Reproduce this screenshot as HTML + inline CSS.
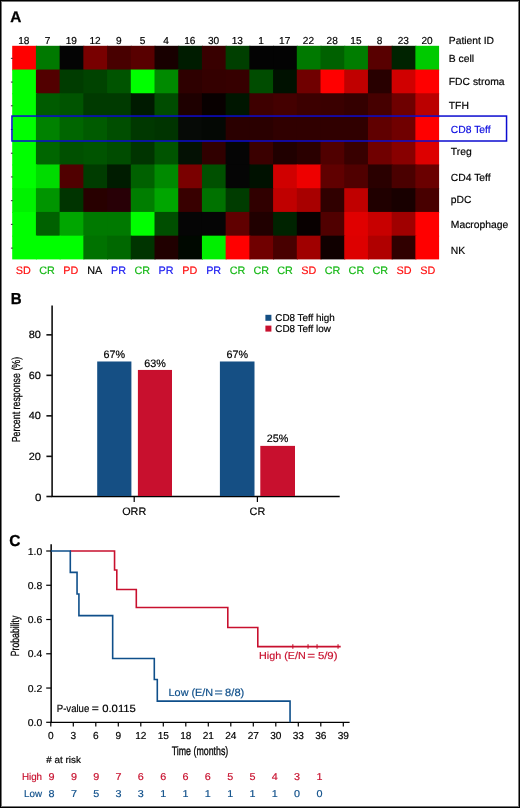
<!DOCTYPE html>
<html><head><meta charset="utf-8"><title>Figure</title>
<style>
html,body{margin:0;padding:0;background:#fff;}
body{width:520px;height:808px;overflow:hidden;position:relative;font-family:"Liberation Sans", sans-serif;}
svg{position:absolute;left:0;top:0;display:block;will-change:transform;}
svg text{font-family:"Liberation Sans", sans-serif;text-rendering:geometricPrecision;}
</style></head><body>
<svg width="520" height="808" viewBox="0 0 520 808">
<rect x="0" y="0" width="520" height="808" fill="#fff"/>

<text transform="translate(10.2,21.7) scale(0.1000,0.1000)" x="0" y="0" font-size="154.0" font-weight="bold" fill="#000" stroke="#000" stroke-width="3">A</text>
<text transform="translate(10.7,303.5) scale(0.0950,0.1000)" x="0" y="0" font-size="159.0" font-weight="bold" fill="#000" stroke="#000" stroke-width="3">B</text>
<text transform="translate(9.3,545.6) scale(0.0970,0.1000)" x="0" y="0" font-size="160.0" font-weight="bold" fill="#000" stroke="#000" stroke-width="3">C</text>
<g>
<rect x="12.20" y="45.80" width="24.72" height="24.73" fill="#ff0000"/>
<rect x="35.92" y="45.80" width="24.72" height="24.73" fill="#007900"/>
<rect x="59.63" y="45.80" width="24.72" height="24.73" fill="#040404"/>
<rect x="83.35" y="45.80" width="24.72" height="24.73" fill="#780000"/>
<rect x="107.07" y="45.80" width="24.72" height="24.73" fill="#480000"/>
<rect x="130.78" y="45.80" width="24.72" height="24.73" fill="#580000"/>
<rect x="154.50" y="45.80" width="24.72" height="24.73" fill="#180000"/>
<rect x="178.22" y="45.80" width="24.72" height="24.73" fill="#001c00"/>
<rect x="201.93" y="45.80" width="24.72" height="24.73" fill="#380000"/>
<rect x="225.65" y="45.80" width="24.72" height="24.73" fill="#003f00"/>
<rect x="249.37" y="45.80" width="24.72" height="24.73" fill="#030303"/>
<rect x="273.08" y="45.80" width="24.72" height="24.73" fill="#030303"/>
<rect x="296.80" y="45.80" width="24.72" height="24.73" fill="#007900"/>
<rect x="320.52" y="45.80" width="24.72" height="24.73" fill="#006100"/>
<rect x="344.23" y="45.80" width="24.72" height="24.73" fill="#007d00"/>
<rect x="367.95" y="45.80" width="24.72" height="24.73" fill="#580000"/>
<rect x="391.67" y="45.80" width="24.72" height="24.73" fill="#002300"/>
<rect x="415.38" y="45.80" width="23.72" height="24.73" fill="#00ca00"/>
<rect x="12.20" y="69.53" width="24.72" height="24.73" fill="#00ff00"/>
<rect x="35.92" y="69.53" width="24.72" height="24.73" fill="#520000"/>
<rect x="59.63" y="69.53" width="24.72" height="24.73" fill="#003c00"/>
<rect x="83.35" y="69.53" width="24.72" height="24.73" fill="#004300"/>
<rect x="107.07" y="69.53" width="24.72" height="24.73" fill="#005400"/>
<rect x="130.78" y="69.53" width="24.72" height="24.73" fill="#00ff00"/>
<rect x="154.50" y="69.53" width="24.72" height="24.73" fill="#008a00"/>
<rect x="178.22" y="69.53" width="24.72" height="24.73" fill="#2e0000"/>
<rect x="201.93" y="69.53" width="24.72" height="24.73" fill="#340000"/>
<rect x="225.65" y="69.53" width="24.72" height="24.73" fill="#360000"/>
<rect x="249.37" y="69.53" width="24.72" height="24.73" fill="#004c00"/>
<rect x="273.08" y="69.53" width="24.72" height="24.73" fill="#001100"/>
<rect x="296.80" y="69.53" width="24.72" height="24.73" fill="#700000"/>
<rect x="320.52" y="69.53" width="24.72" height="24.73" fill="#ff0000"/>
<rect x="344.23" y="69.53" width="24.72" height="24.73" fill="#c00000"/>
<rect x="367.95" y="69.53" width="24.72" height="24.73" fill="#280000"/>
<rect x="391.67" y="69.53" width="24.72" height="24.73" fill="#d00000"/>
<rect x="415.38" y="69.53" width="23.72" height="24.73" fill="#ff0000"/>
<rect x="12.20" y="93.27" width="24.72" height="24.73" fill="#00ff00"/>
<rect x="35.92" y="93.27" width="24.72" height="24.73" fill="#005b00"/>
<rect x="59.63" y="93.27" width="24.72" height="24.73" fill="#005400"/>
<rect x="83.35" y="93.27" width="24.72" height="24.73" fill="#003a00"/>
<rect x="107.07" y="93.27" width="24.72" height="24.73" fill="#003a00"/>
<rect x="130.78" y="93.27" width="24.72" height="24.73" fill="#001a00"/>
<rect x="154.50" y="93.27" width="24.72" height="24.73" fill="#004c00"/>
<rect x="178.22" y="93.27" width="24.72" height="24.73" fill="#1e0000"/>
<rect x="201.93" y="93.27" width="24.72" height="24.73" fill="#080000"/>
<rect x="225.65" y="93.27" width="24.72" height="24.73" fill="#001600"/>
<rect x="249.37" y="93.27" width="24.72" height="24.73" fill="#3e0000"/>
<rect x="273.08" y="93.27" width="24.72" height="24.73" fill="#440000"/>
<rect x="296.80" y="93.27" width="24.72" height="24.73" fill="#3c0000"/>
<rect x="320.52" y="93.27" width="24.72" height="24.73" fill="#3a0000"/>
<rect x="344.23" y="93.27" width="24.72" height="24.73" fill="#340000"/>
<rect x="367.95" y="93.27" width="24.72" height="24.73" fill="#460000"/>
<rect x="391.67" y="93.27" width="24.72" height="24.73" fill="#6e0000"/>
<rect x="415.38" y="93.27" width="23.72" height="24.73" fill="#bb0000"/>
<rect x="12.20" y="117.00" width="24.72" height="24.73" fill="#00ff00"/>
<rect x="35.92" y="117.00" width="24.72" height="24.73" fill="#008200"/>
<rect x="59.63" y="117.00" width="24.72" height="24.73" fill="#006600"/>
<rect x="83.35" y="117.00" width="24.72" height="24.73" fill="#005b00"/>
<rect x="107.07" y="117.00" width="24.72" height="24.73" fill="#004e00"/>
<rect x="130.78" y="117.00" width="24.72" height="24.73" fill="#003800"/>
<rect x="154.50" y="117.00" width="24.72" height="24.73" fill="#003400"/>
<rect x="178.22" y="117.00" width="24.72" height="24.73" fill="#060a06"/>
<rect x="201.93" y="117.00" width="24.72" height="24.73" fill="#040804"/>
<rect x="225.65" y="117.00" width="24.72" height="24.73" fill="#2a0000"/>
<rect x="249.37" y="117.00" width="24.72" height="24.73" fill="#2a0000"/>
<rect x="273.08" y="117.00" width="24.72" height="24.73" fill="#300000"/>
<rect x="296.80" y="117.00" width="24.72" height="24.73" fill="#300000"/>
<rect x="320.52" y="117.00" width="24.72" height="24.73" fill="#300000"/>
<rect x="344.23" y="117.00" width="24.72" height="24.73" fill="#300000"/>
<rect x="367.95" y="117.00" width="24.72" height="24.73" fill="#600000"/>
<rect x="391.67" y="117.00" width="24.72" height="24.73" fill="#700000"/>
<rect x="415.38" y="117.00" width="23.72" height="24.73" fill="#ff0000"/>
<rect x="12.20" y="140.73" width="24.72" height="24.73" fill="#00ff00"/>
<rect x="35.92" y="140.73" width="24.72" height="24.73" fill="#006600"/>
<rect x="59.63" y="140.73" width="24.72" height="24.73" fill="#005000"/>
<rect x="83.35" y="140.73" width="24.72" height="24.73" fill="#005400"/>
<rect x="107.07" y="140.73" width="24.72" height="24.73" fill="#004c00"/>
<rect x="130.78" y="140.73" width="24.72" height="24.73" fill="#003400"/>
<rect x="154.50" y="140.73" width="24.72" height="24.73" fill="#005400"/>
<rect x="178.22" y="140.73" width="24.72" height="24.73" fill="#041104"/>
<rect x="201.93" y="140.73" width="24.72" height="24.73" fill="#300000"/>
<rect x="225.65" y="140.73" width="24.72" height="24.73" fill="#050505"/>
<rect x="249.37" y="140.73" width="24.72" height="24.73" fill="#3a0000"/>
<rect x="273.08" y="140.73" width="24.72" height="24.73" fill="#200000"/>
<rect x="296.80" y="140.73" width="24.72" height="24.73" fill="#2a0000"/>
<rect x="320.52" y="140.73" width="24.72" height="24.73" fill="#500000"/>
<rect x="344.23" y="140.73" width="24.72" height="24.73" fill="#380000"/>
<rect x="367.95" y="140.73" width="24.72" height="24.73" fill="#700000"/>
<rect x="391.67" y="140.73" width="24.72" height="24.73" fill="#880000"/>
<rect x="415.38" y="140.73" width="23.72" height="24.73" fill="#dd0000"/>
<rect x="12.20" y="164.47" width="24.72" height="24.73" fill="#00ff00"/>
<rect x="35.92" y="164.47" width="24.72" height="24.73" fill="#00dc00"/>
<rect x="59.63" y="164.47" width="24.72" height="24.73" fill="#500000"/>
<rect x="83.35" y="164.47" width="24.72" height="24.73" fill="#003c00"/>
<rect x="107.07" y="164.47" width="24.72" height="24.73" fill="#001c00"/>
<rect x="130.78" y="164.47" width="24.72" height="24.73" fill="#006100"/>
<rect x="154.50" y="164.47" width="24.72" height="24.73" fill="#008a00"/>
<rect x="178.22" y="164.47" width="24.72" height="24.73" fill="#7a0000"/>
<rect x="201.93" y="164.47" width="24.72" height="24.73" fill="#005000"/>
<rect x="225.65" y="164.47" width="24.72" height="24.73" fill="#050505"/>
<rect x="249.37" y="164.47" width="24.72" height="24.73" fill="#001100"/>
<rect x="273.08" y="164.47" width="24.72" height="24.73" fill="#d00000"/>
<rect x="296.80" y="164.47" width="24.72" height="24.73" fill="#ee0000"/>
<rect x="320.52" y="164.47" width="24.72" height="24.73" fill="#600000"/>
<rect x="344.23" y="164.47" width="24.72" height="24.73" fill="#500000"/>
<rect x="367.95" y="164.47" width="24.72" height="24.73" fill="#2a0000"/>
<rect x="391.67" y="164.47" width="24.72" height="24.73" fill="#4a0000"/>
<rect x="415.38" y="164.47" width="23.72" height="24.73" fill="#6a0000"/>
<rect x="12.20" y="188.20" width="24.72" height="24.73" fill="#00f200"/>
<rect x="35.92" y="188.20" width="24.72" height="24.73" fill="#009500"/>
<rect x="59.63" y="188.20" width="24.72" height="24.73" fill="#003400"/>
<rect x="83.35" y="188.20" width="24.72" height="24.73" fill="#280000"/>
<rect x="107.07" y="188.20" width="24.72" height="24.73" fill="#280006"/>
<rect x="130.78" y="188.20" width="24.72" height="24.73" fill="#007e00"/>
<rect x="154.50" y="188.20" width="24.72" height="24.73" fill="#00a600"/>
<rect x="178.22" y="188.20" width="24.72" height="24.73" fill="#380000"/>
<rect x="201.93" y="188.20" width="24.72" height="24.73" fill="#007200"/>
<rect x="225.65" y="188.20" width="24.72" height="24.73" fill="#003c00"/>
<rect x="249.37" y="188.20" width="24.72" height="24.73" fill="#300000"/>
<rect x="273.08" y="188.20" width="24.72" height="24.73" fill="#c00000"/>
<rect x="296.80" y="188.20" width="24.72" height="24.73" fill="#a80000"/>
<rect x="320.52" y="188.20" width="24.72" height="24.73" fill="#300000"/>
<rect x="344.23" y="188.20" width="24.72" height="24.73" fill="#c00000"/>
<rect x="367.95" y="188.20" width="24.72" height="24.73" fill="#200000"/>
<rect x="391.67" y="188.20" width="24.72" height="24.73" fill="#180000"/>
<rect x="415.38" y="188.20" width="23.72" height="24.73" fill="#480000"/>
<rect x="12.20" y="211.93" width="24.72" height="24.73" fill="#00ff00"/>
<rect x="35.92" y="211.93" width="24.72" height="24.73" fill="#006100"/>
<rect x="59.63" y="211.93" width="24.72" height="24.73" fill="#00a600"/>
<rect x="83.35" y="211.93" width="24.72" height="24.73" fill="#007900"/>
<rect x="107.07" y="211.93" width="24.72" height="24.73" fill="#007900"/>
<rect x="130.78" y="211.93" width="24.72" height="24.73" fill="#00ff00"/>
<rect x="154.50" y="211.93" width="24.72" height="24.73" fill="#004e00"/>
<rect x="178.22" y="211.93" width="24.72" height="24.73" fill="#050505"/>
<rect x="201.93" y="211.93" width="24.72" height="24.73" fill="#050505"/>
<rect x="225.65" y="211.93" width="24.72" height="24.73" fill="#600000"/>
<rect x="249.37" y="211.93" width="24.72" height="24.73" fill="#200000"/>
<rect x="273.08" y="211.93" width="24.72" height="24.73" fill="#002300"/>
<rect x="296.80" y="211.93" width="24.72" height="24.73" fill="#080000"/>
<rect x="320.52" y="211.93" width="24.72" height="24.73" fill="#500000"/>
<rect x="344.23" y="211.93" width="24.72" height="24.73" fill="#e00000"/>
<rect x="367.95" y="211.93" width="24.72" height="24.73" fill="#c80000"/>
<rect x="391.67" y="211.93" width="24.72" height="24.73" fill="#a00000"/>
<rect x="415.38" y="211.93" width="23.72" height="24.73" fill="#ff0000"/>
<rect x="12.20" y="235.67" width="24.72" height="23.73" fill="#00ff00"/>
<rect x="35.92" y="235.67" width="24.72" height="23.73" fill="#00ff00"/>
<rect x="59.63" y="235.67" width="24.72" height="23.73" fill="#00ff00"/>
<rect x="83.35" y="235.67" width="24.72" height="23.73" fill="#007200"/>
<rect x="107.07" y="235.67" width="24.72" height="23.73" fill="#006800"/>
<rect x="130.78" y="235.67" width="24.72" height="23.73" fill="#003400"/>
<rect x="154.50" y="235.67" width="24.72" height="23.73" fill="#200000"/>
<rect x="178.22" y="235.67" width="24.72" height="23.73" fill="#000800"/>
<rect x="201.93" y="235.67" width="24.72" height="23.73" fill="#00ef00"/>
<rect x="225.65" y="235.67" width="24.72" height="23.73" fill="#ff0000"/>
<rect x="249.37" y="235.67" width="24.72" height="23.73" fill="#700000"/>
<rect x="273.08" y="235.67" width="24.72" height="23.73" fill="#480000"/>
<rect x="296.80" y="235.67" width="24.72" height="23.73" fill="#a00000"/>
<rect x="320.52" y="235.67" width="24.72" height="23.73" fill="#100000"/>
<rect x="344.23" y="235.67" width="24.72" height="23.73" fill="#dd0000"/>
<rect x="367.95" y="235.67" width="24.72" height="23.73" fill="#b00000"/>
<rect x="391.67" y="235.67" width="24.72" height="23.73" fill="#300000"/>
<rect x="415.38" y="235.67" width="23.72" height="23.73" fill="#ff0000"/>
</g>
<line x1="10.9" y1="58.35" x2="12.8" y2="58.35" stroke="#333" stroke-width="1"/>
<line x1="10.9" y1="82.07" x2="12.8" y2="82.07" stroke="#333" stroke-width="1"/>
<line x1="10.9" y1="105.79" x2="12.8" y2="105.79" stroke="#333" stroke-width="1"/>
<line x1="10.9" y1="129.51" x2="12.8" y2="129.51" stroke="#333" stroke-width="1"/>
<line x1="10.9" y1="153.23" x2="12.8" y2="153.23" stroke="#333" stroke-width="1"/>
<line x1="10.9" y1="176.95" x2="12.8" y2="176.95" stroke="#333" stroke-width="1"/>
<line x1="10.9" y1="200.67" x2="12.8" y2="200.67" stroke="#333" stroke-width="1"/>
<line x1="10.9" y1="224.39" x2="12.8" y2="224.39" stroke="#333" stroke-width="1"/>
<line x1="10.9" y1="248.11" x2="12.8" y2="248.11" stroke="#333" stroke-width="1"/>
<text x="23.86" y="44.00" font-size="10.1" fill="#000" text-anchor="middle" font-weight="normal" stroke="#000" stroke-width="0.18" >18</text>
<text x="47.58" y="44.00" font-size="10.1" fill="#000" text-anchor="middle" font-weight="normal" stroke="#000" stroke-width="0.18" >7</text>
<text x="71.29" y="44.00" font-size="10.1" fill="#000" text-anchor="middle" font-weight="normal" stroke="#000" stroke-width="0.18" >19</text>
<text x="95.01" y="44.00" font-size="10.1" fill="#000" text-anchor="middle" font-weight="normal" stroke="#000" stroke-width="0.18" >12</text>
<text x="118.73" y="44.00" font-size="10.1" fill="#000" text-anchor="middle" font-weight="normal" stroke="#000" stroke-width="0.18" >9</text>
<text x="142.44" y="44.00" font-size="10.1" fill="#000" text-anchor="middle" font-weight="normal" stroke="#000" stroke-width="0.18" >5</text>
<text x="166.16" y="44.00" font-size="10.1" fill="#000" text-anchor="middle" font-weight="normal" stroke="#000" stroke-width="0.18" >4</text>
<text x="189.88" y="44.00" font-size="10.1" fill="#000" text-anchor="middle" font-weight="normal" stroke="#000" stroke-width="0.18" >16</text>
<text x="213.59" y="44.00" font-size="10.1" fill="#000" text-anchor="middle" font-weight="normal" stroke="#000" stroke-width="0.18" >30</text>
<text x="237.31" y="44.00" font-size="10.1" fill="#000" text-anchor="middle" font-weight="normal" stroke="#000" stroke-width="0.18" >13</text>
<text x="261.03" y="44.00" font-size="10.1" fill="#000" text-anchor="middle" font-weight="normal" stroke="#000" stroke-width="0.18" >1</text>
<text x="284.74" y="44.00" font-size="10.1" fill="#000" text-anchor="middle" font-weight="normal" stroke="#000" stroke-width="0.18" >17</text>
<text x="308.46" y="44.00" font-size="10.1" fill="#000" text-anchor="middle" font-weight="normal" stroke="#000" stroke-width="0.18" >22</text>
<text x="332.18" y="44.00" font-size="10.1" fill="#000" text-anchor="middle" font-weight="normal" stroke="#000" stroke-width="0.18" >28</text>
<text x="355.89" y="44.00" font-size="10.1" fill="#000" text-anchor="middle" font-weight="normal" stroke="#000" stroke-width="0.18" >15</text>
<text x="379.61" y="44.00" font-size="10.1" fill="#000" text-anchor="middle" font-weight="normal" stroke="#000" stroke-width="0.18" >8</text>
<text x="403.33" y="44.00" font-size="10.1" fill="#000" text-anchor="middle" font-weight="normal" stroke="#000" stroke-width="0.18" >23</text>
<text x="427.04" y="44.00" font-size="10.1" fill="#000" text-anchor="middle" font-weight="normal" stroke="#000" stroke-width="0.18" >20</text>
<text x="448.80" y="44.20" font-size="10.3" fill="#000" text-anchor="start" font-weight="normal" stroke="#000" stroke-width="0.18" >Patient ID</text>
<text x="448.80" y="61.60" font-size="10.35" fill="#000" text-anchor="start" font-weight="normal" stroke="#000" stroke-width="0.18" >B cell</text>
<text x="448.80" y="85.30" font-size="10.35" fill="#000" text-anchor="start" font-weight="normal" stroke="#000" stroke-width="0.18" >FDC stroma</text>
<text x="448.80" y="108.90" font-size="10.35" fill="#000" text-anchor="start" font-weight="normal" stroke="#000" stroke-width="0.18" >TFH</text>
<text x="450.80" y="132.60" font-size="10.35" fill="#0c0ce0" text-anchor="start" font-weight="normal" stroke="#0c0ce0" stroke-width="0.18" >CD8 Teff</text>
<text x="450.80" y="155.40" font-size="10.35" fill="#000" text-anchor="start" font-weight="normal" stroke="#000" stroke-width="0.18" >Treg</text>
<text x="450.80" y="180.80" font-size="10.35" fill="#000" text-anchor="start" font-weight="normal" stroke="#000" stroke-width="0.18" >CD4 Teff</text>
<text x="450.80" y="203.40" font-size="10.35" fill="#000" text-anchor="start" font-weight="normal" stroke="#000" stroke-width="0.18" >pDC</text>
<text x="450.80" y="227.70" font-size="10.35" fill="#000" text-anchor="start" font-weight="normal" stroke="#000" stroke-width="0.18" >Macrophage</text>
<text x="450.80" y="253.50" font-size="10.35" fill="#000" text-anchor="start" font-weight="normal" stroke="#000" stroke-width="0.18" >NK</text>
<rect x="11.95" y="116.05" width="494.6" height="24.95" fill="none" stroke="#0c0cd0" stroke-width="1.5"/>
<text x="23.26" y="274.00" font-size="10.8" fill="#ff1010" text-anchor="middle" font-weight="normal" stroke="#ff1010" stroke-width="0.18" >SD</text>
<text x="47.06" y="274.00" font-size="10.8" fill="#16b816" text-anchor="middle" font-weight="normal" stroke="#16b816" stroke-width="0.18" >CR</text>
<text x="70.85" y="274.00" font-size="10.8" fill="#ff1010" text-anchor="middle" font-weight="normal" stroke="#ff1010" stroke-width="0.18" >PD</text>
<text x="94.65" y="274.00" font-size="10.8" fill="#000000" text-anchor="middle" font-weight="normal" stroke="#000000" stroke-width="0.18" >NA</text>
<text x="118.45" y="274.00" font-size="10.8" fill="#1818f0" text-anchor="middle" font-weight="normal" stroke="#1818f0" stroke-width="0.18" >PR</text>
<text x="142.24" y="274.00" font-size="10.8" fill="#16b816" text-anchor="middle" font-weight="normal" stroke="#16b816" stroke-width="0.18" >CR</text>
<text x="166.04" y="274.00" font-size="10.8" fill="#1818f0" text-anchor="middle" font-weight="normal" stroke="#1818f0" stroke-width="0.18" >PR</text>
<text x="189.83" y="274.00" font-size="10.8" fill="#ff1010" text-anchor="middle" font-weight="normal" stroke="#ff1010" stroke-width="0.18" >PD</text>
<text x="213.63" y="274.00" font-size="10.8" fill="#1818f0" text-anchor="middle" font-weight="normal" stroke="#1818f0" stroke-width="0.18" >PR</text>
<text x="237.43" y="274.00" font-size="10.8" fill="#16b816" text-anchor="middle" font-weight="normal" stroke="#16b816" stroke-width="0.18" >CR</text>
<text x="261.23" y="274.00" font-size="10.8" fill="#16b816" text-anchor="middle" font-weight="normal" stroke="#16b816" stroke-width="0.18" >CR</text>
<text x="285.02" y="274.00" font-size="10.8" fill="#16b816" text-anchor="middle" font-weight="normal" stroke="#16b816" stroke-width="0.18" >CR</text>
<text x="308.82" y="274.00" font-size="10.8" fill="#ff1010" text-anchor="middle" font-weight="normal" stroke="#ff1010" stroke-width="0.18" >SD</text>
<text x="332.62" y="274.00" font-size="10.8" fill="#16b816" text-anchor="middle" font-weight="normal" stroke="#16b816" stroke-width="0.18" >CR</text>
<text x="356.41" y="274.00" font-size="10.8" fill="#16b816" text-anchor="middle" font-weight="normal" stroke="#16b816" stroke-width="0.18" >CR</text>
<text x="380.21" y="274.00" font-size="10.8" fill="#16b816" text-anchor="middle" font-weight="normal" stroke="#16b816" stroke-width="0.18" >CR</text>
<text x="404.00" y="274.00" font-size="10.8" fill="#ff1010" text-anchor="middle" font-weight="normal" stroke="#ff1010" stroke-width="0.18" >SD</text>
<text x="427.80" y="274.00" font-size="10.8" fill="#ff1010" text-anchor="middle" font-weight="normal" stroke="#ff1010" stroke-width="0.18" >SD</text>
<line x1="52.1" y1="305.5" x2="52.1" y2="497.0" stroke="#000" stroke-width="1.5"/>
<line x1="51.5" y1="496.55" x2="339.7" y2="496.55" stroke="#000" stroke-width="1.5"/>
<line x1="46.4" y1="496.50" x2="52.1" y2="496.50" stroke="#111" stroke-width="1.6"/>
<text x="34.90" y="501.10" font-size="10.5" fill="#000" text-anchor="start" font-weight="normal" stroke="#000" stroke-width="0.18" textLength="6.4" lengthAdjust="spacingAndGlyphs">0</text>
<line x1="46.4" y1="456.35" x2="52.1" y2="456.35" stroke="#111" stroke-width="1.6"/>
<text x="28.70" y="459.95" font-size="10.5" fill="#000" text-anchor="start" font-weight="normal" stroke="#000" stroke-width="0.18" textLength="12.2" lengthAdjust="spacingAndGlyphs">20</text>
<line x1="46.4" y1="415.85" x2="52.1" y2="415.85" stroke="#111" stroke-width="1.6"/>
<text x="28.70" y="419.45" font-size="10.5" fill="#000" text-anchor="start" font-weight="normal" stroke="#000" stroke-width="0.18" textLength="12.2" lengthAdjust="spacingAndGlyphs">40</text>
<line x1="46.4" y1="375.35" x2="52.1" y2="375.35" stroke="#111" stroke-width="1.6"/>
<text x="28.70" y="378.95" font-size="10.5" fill="#000" text-anchor="start" font-weight="normal" stroke="#000" stroke-width="0.18" textLength="12.2" lengthAdjust="spacingAndGlyphs">60</text>
<line x1="46.4" y1="334.85" x2="52.1" y2="334.85" stroke="#111" stroke-width="1.6"/>
<text x="28.70" y="338.45" font-size="10.5" fill="#000" text-anchor="start" font-weight="normal" stroke="#000" stroke-width="0.18" textLength="12.2" lengthAdjust="spacingAndGlyphs">80</text>
<line x1="134.2" y1="496.6" x2="134.2" y2="502" stroke="#000" stroke-width="1.2"/>
<line x1="257.4" y1="496.6" x2="257.4" y2="502" stroke="#000" stroke-width="1.2"/>
<text x="134.20" y="515.20" font-size="10.8" fill="#000" text-anchor="middle" font-weight="normal" stroke="#000" stroke-width="0.18" >ORR</text>
<text x="257.40" y="515.20" font-size="10.8" fill="#000" text-anchor="middle" font-weight="normal" stroke="#000" stroke-width="0.18" >CR</text>
<rect x="97.2" y="361.49" width="34.20" height="134.51" fill="#154f84"/>
<text x="114.30" y="358.09" font-size="10.8" fill="#000" text-anchor="middle" font-weight="normal" stroke="#000" stroke-width="0.18" >67%</text>
<rect x="137.9" y="369.94" width="34.10" height="126.06" fill="#c8102e"/>
<text x="154.95" y="366.54" font-size="10.8" fill="#000" text-anchor="middle" font-weight="normal" stroke="#000" stroke-width="0.18" >63%</text>
<rect x="219.9" y="361.49" width="34.60" height="134.51" fill="#154f84"/>
<text x="237.20" y="358.09" font-size="10.8" fill="#000" text-anchor="middle" font-weight="normal" stroke="#000" stroke-width="0.18" >67%</text>
<rect x="260.3" y="445.88" width="34.70" height="50.12" fill="#c8102e"/>
<text x="277.65" y="442.48" font-size="10.8" fill="#000" text-anchor="middle" font-weight="normal" stroke="#000" stroke-width="0.18" >25%</text>
<rect x="265.4" y="314.8" width="6" height="6" fill="#154f84"/>
<rect x="265.4" y="325.6" width="6" height="6" fill="#c8102e"/>
<text x="275.30" y="321.20" font-size="9.9" fill="#000" text-anchor="start" font-weight="normal" stroke="#000" stroke-width="0.18" >CD8 Teff high</text>
<text x="275.30" y="332.20" font-size="9.9" fill="#000" text-anchor="start" font-weight="normal" stroke="#000" stroke-width="0.18" >CD8 Teff low</text>
<text transform="translate(20.2,399.6) rotate(-90)" font-size="11.6" stroke="#000" stroke-width="0.25" text-anchor="middle" textLength="85.5" lengthAdjust="spacingAndGlyphs">Percent response (%)</text>
<line x1="51.15" y1="544.2" x2="51.15" y2="723" stroke="#000" stroke-width="1.5"/>
<line x1="50.55" y1="722.3" x2="349.6" y2="722.3" stroke="#000" stroke-width="1.3"/>
<line x1="46.2" y1="722.30" x2="51.15" y2="722.30" stroke="#000" stroke-width="1.2"/>
<text x="27.70" y="725.80" font-size="10.0" fill="#000" text-anchor="start" font-weight="normal" stroke="#000" stroke-width="0.18" textLength="14.5" lengthAdjust="spacingAndGlyphs">0.0</text>
<line x1="46.2" y1="688.04" x2="51.15" y2="688.04" stroke="#000" stroke-width="1.2"/>
<text x="27.70" y="691.54" font-size="10.0" fill="#000" text-anchor="start" font-weight="normal" stroke="#000" stroke-width="0.18" textLength="14.5" lengthAdjust="spacingAndGlyphs">0.2</text>
<line x1="46.2" y1="653.78" x2="51.15" y2="653.78" stroke="#000" stroke-width="1.2"/>
<text x="27.70" y="657.28" font-size="10.0" fill="#000" text-anchor="start" font-weight="normal" stroke="#000" stroke-width="0.18" textLength="14.5" lengthAdjust="spacingAndGlyphs">0.4</text>
<line x1="46.2" y1="619.52" x2="51.15" y2="619.52" stroke="#000" stroke-width="1.2"/>
<text x="27.70" y="623.02" font-size="10.0" fill="#000" text-anchor="start" font-weight="normal" stroke="#000" stroke-width="0.18" textLength="14.5" lengthAdjust="spacingAndGlyphs">0.6</text>
<line x1="46.2" y1="585.26" x2="51.15" y2="585.26" stroke="#000" stroke-width="1.2"/>
<text x="27.70" y="588.76" font-size="10.0" fill="#000" text-anchor="start" font-weight="normal" stroke="#000" stroke-width="0.18" textLength="14.5" lengthAdjust="spacingAndGlyphs">0.8</text>
<line x1="46.2" y1="551.00" x2="51.15" y2="551.00" stroke="#000" stroke-width="1.2"/>
<text x="27.70" y="554.50" font-size="10.0" fill="#000" text-anchor="start" font-weight="normal" stroke="#000" stroke-width="0.18" textLength="14.5" lengthAdjust="spacingAndGlyphs">1.0</text>
<line x1="50.80" y1="722.3" x2="50.80" y2="726.5" stroke="#000" stroke-width="1.2"/>
<text x="50.80" y="738.90" font-size="10.1" fill="#000" text-anchor="middle" font-weight="normal" stroke="#000" stroke-width="0.18" >0</text>
<line x1="73.30" y1="722.3" x2="73.30" y2="726.5" stroke="#000" stroke-width="1.2"/>
<text x="73.30" y="738.90" font-size="10.1" fill="#000" text-anchor="middle" font-weight="normal" stroke="#000" stroke-width="0.18" >3</text>
<line x1="95.80" y1="722.3" x2="95.80" y2="726.5" stroke="#000" stroke-width="1.2"/>
<text x="95.80" y="738.90" font-size="10.1" fill="#000" text-anchor="middle" font-weight="normal" stroke="#000" stroke-width="0.18" >6</text>
<line x1="118.30" y1="722.3" x2="118.30" y2="726.5" stroke="#000" stroke-width="1.2"/>
<text x="118.30" y="738.90" font-size="10.1" fill="#000" text-anchor="middle" font-weight="normal" stroke="#000" stroke-width="0.18" >9</text>
<line x1="140.80" y1="722.3" x2="140.80" y2="726.5" stroke="#000" stroke-width="1.2"/>
<text x="140.80" y="738.90" font-size="10.1" fill="#000" text-anchor="middle" font-weight="normal" stroke="#000" stroke-width="0.18" >12</text>
<line x1="163.30" y1="722.3" x2="163.30" y2="726.5" stroke="#000" stroke-width="1.2"/>
<text x="163.30" y="738.90" font-size="10.1" fill="#000" text-anchor="middle" font-weight="normal" stroke="#000" stroke-width="0.18" >15</text>
<line x1="185.80" y1="722.3" x2="185.80" y2="726.5" stroke="#000" stroke-width="1.2"/>
<text x="185.80" y="738.90" font-size="10.1" fill="#000" text-anchor="middle" font-weight="normal" stroke="#000" stroke-width="0.18" >18</text>
<line x1="208.30" y1="722.3" x2="208.30" y2="726.5" stroke="#000" stroke-width="1.2"/>
<text x="208.30" y="738.90" font-size="10.1" fill="#000" text-anchor="middle" font-weight="normal" stroke="#000" stroke-width="0.18" >21</text>
<line x1="230.80" y1="722.3" x2="230.80" y2="726.5" stroke="#000" stroke-width="1.2"/>
<text x="230.80" y="738.90" font-size="10.1" fill="#000" text-anchor="middle" font-weight="normal" stroke="#000" stroke-width="0.18" >24</text>
<line x1="253.30" y1="722.3" x2="253.30" y2="726.5" stroke="#000" stroke-width="1.2"/>
<text x="253.30" y="738.90" font-size="10.1" fill="#000" text-anchor="middle" font-weight="normal" stroke="#000" stroke-width="0.18" >27</text>
<line x1="275.80" y1="722.3" x2="275.80" y2="726.5" stroke="#000" stroke-width="1.2"/>
<text x="275.80" y="738.90" font-size="10.1" fill="#000" text-anchor="middle" font-weight="normal" stroke="#000" stroke-width="0.18" >30</text>
<line x1="298.30" y1="722.3" x2="298.30" y2="726.5" stroke="#000" stroke-width="1.2"/>
<text x="298.30" y="738.90" font-size="10.1" fill="#000" text-anchor="middle" font-weight="normal" stroke="#000" stroke-width="0.18" >33</text>
<line x1="320.80" y1="722.3" x2="320.80" y2="726.5" stroke="#000" stroke-width="1.2"/>
<text x="320.80" y="738.90" font-size="10.1" fill="#000" text-anchor="middle" font-weight="normal" stroke="#000" stroke-width="0.18" >36</text>
<line x1="343.30" y1="722.3" x2="343.30" y2="726.5" stroke="#000" stroke-width="1.2"/>
<text x="343.30" y="738.90" font-size="10.1" fill="#000" text-anchor="middle" font-weight="normal" stroke="#000" stroke-width="0.18" >39</text>
<text x="200.00" y="754.80" font-size="12.2" fill="#000" text-anchor="middle" font-weight="normal"  stroke="#000" stroke-width="0.3" textLength="56.5" lengthAdjust="spacingAndGlyphs">Time (months)</text>
<text transform="translate(18.5,636.0) rotate(-90)" font-size="11.8" stroke="#000" stroke-width="0.25" text-anchor="middle" textLength="40.5" lengthAdjust="spacingAndGlyphs">Probability</text>
<polyline points="69.92,551.00 114.55,551.00 114.55,570.01 116.80,570.01 116.80,589.50 136.30,589.50 136.30,607.50 227.80,607.50 227.80,627.50 257.80,627.50 257.80,646.60 340.68,646.60" fill="none" stroke="#c8102e" stroke-width="1.6" stroke-linejoin="miter"/>
<line x1="292.83" y1="644.20" x2="292.83" y2="648.80" stroke="#c8102e" stroke-width="1.1"/>
<line x1="308.05" y1="644.20" x2="308.05" y2="648.80" stroke="#c8102e" stroke-width="1.1"/>
<line x1="317.05" y1="644.20" x2="317.05" y2="648.80" stroke="#c8102e" stroke-width="1.1"/>
<line x1="338.05" y1="644.20" x2="338.05" y2="648.80" stroke="#c8102e" stroke-width="1.1"/>
<polyline points="50.80,551.00 70.30,551.00 70.30,572.41 77.05,572.41 77.05,594.00 78.92,594.00 78.92,615.60 112.67,615.60 112.67,658.50 154.30,658.50 154.30,679.47 157.30,679.47 157.30,701.10 290.05,701.10 290.05,722.30" fill="none" stroke="#0f4f8a" stroke-width="1.6" stroke-linejoin="miter"/>
<text x="259.10" y="659.20" font-size="10.2" fill="#c8102e" text-anchor="start" font-weight="normal" stroke="#c8102e" stroke-width="0.18" textLength="46.6" lengthAdjust="spacingAndGlyphs">High (E/N</text>
<line x1="307.8" y1="654.3" x2="314.6" y2="654.3" stroke="#c8102e" stroke-width="1.0"/>
<line x1="307.8" y1="657.1" x2="314.6" y2="657.1" stroke="#c8102e" stroke-width="1.0"/>
<text x="317.90" y="659.20" font-size="10.2" fill="#c8102e" text-anchor="start" font-weight="normal" stroke="#c8102e" stroke-width="0.18" textLength="19.6" lengthAdjust="spacingAndGlyphs">5/9)</text>
<text x="168.60" y="695.90" font-size="10.5" fill="#0f4f8a" text-anchor="start" font-weight="normal" stroke="#0f4f8a" stroke-width="0.18" textLength="44.6" lengthAdjust="spacingAndGlyphs">Low (E/N</text>
<line x1="215.0" y1="691.0" x2="222.2" y2="691.0" stroke="#0f4f8a" stroke-width="1.0"/>
<line x1="215.0" y1="693.9" x2="222.2" y2="693.9" stroke="#0f4f8a" stroke-width="1.0"/>
<text x="225.10" y="695.90" font-size="10.5" fill="#0f4f8a" text-anchor="start" font-weight="normal" stroke="#0f4f8a" stroke-width="0.18" textLength="19.2" lengthAdjust="spacingAndGlyphs">8/8)</text>
<text x="56.80" y="711.60" font-size="10.5" fill="#000" text-anchor="start" font-weight="normal" stroke="#000" stroke-width="0.18" textLength="32.4" lengthAdjust="spacingAndGlyphs">P-value</text>
<line x1="92.2" y1="707.0" x2="98.4" y2="707.0" stroke="#000" stroke-width="1.0"/>
<line x1="92.2" y1="709.7" x2="98.4" y2="709.7" stroke="#000" stroke-width="1.0"/>
<text x="102.20" y="711.60" font-size="10.5" fill="#000" text-anchor="start" font-weight="normal" stroke="#000" stroke-width="0.18" textLength="33.7" lengthAdjust="spacingAndGlyphs">0.0115</text>
<text x="46.30" y="763.00" font-size="9.6" fill="#000" text-anchor="start" font-weight="normal" stroke="#000" stroke-width="0.18" textLength="34.6" lengthAdjust="spacingAndGlyphs"># at risk</text>
<text x="21.90" y="779.70" font-size="10" fill="#c8102e" text-anchor="start" font-weight="normal" stroke="#c8102e" stroke-width="0.18" textLength="20.2" lengthAdjust="spacingAndGlyphs">High</text>
<text x="24.00" y="796.50" font-size="10" fill="#0f4f8a" text-anchor="start" font-weight="normal" stroke="#0f4f8a" stroke-width="0.18" textLength="18.0" lengthAdjust="spacingAndGlyphs">Low</text>
<text x="51.60" y="779.70" font-size="10" fill="#c8102e" text-anchor="middle" font-weight="normal" stroke="#c8102e" stroke-width="0.18" textLength="6.0" lengthAdjust="spacingAndGlyphs">9</text>
<text x="51.60" y="796.50" font-size="10" fill="#0f4f8a" text-anchor="middle" font-weight="normal" stroke="#0f4f8a" stroke-width="0.18" textLength="6.0" lengthAdjust="spacingAndGlyphs">8</text>
<text x="73.92" y="779.70" font-size="10" fill="#c8102e" text-anchor="middle" font-weight="normal" stroke="#c8102e" stroke-width="0.18" textLength="6.0" lengthAdjust="spacingAndGlyphs">9</text>
<text x="73.92" y="796.50" font-size="10" fill="#0f4f8a" text-anchor="middle" font-weight="normal" stroke="#0f4f8a" stroke-width="0.18" textLength="6.0" lengthAdjust="spacingAndGlyphs">7</text>
<text x="96.24" y="779.70" font-size="10" fill="#c8102e" text-anchor="middle" font-weight="normal" stroke="#c8102e" stroke-width="0.18" textLength="6.0" lengthAdjust="spacingAndGlyphs">9</text>
<text x="96.24" y="796.50" font-size="10" fill="#0f4f8a" text-anchor="middle" font-weight="normal" stroke="#0f4f8a" stroke-width="0.18" textLength="6.0" lengthAdjust="spacingAndGlyphs">5</text>
<text x="118.56" y="779.70" font-size="10" fill="#c8102e" text-anchor="middle" font-weight="normal" stroke="#c8102e" stroke-width="0.18" textLength="6.0" lengthAdjust="spacingAndGlyphs">7</text>
<text x="118.56" y="796.50" font-size="10" fill="#0f4f8a" text-anchor="middle" font-weight="normal" stroke="#0f4f8a" stroke-width="0.18" textLength="6.0" lengthAdjust="spacingAndGlyphs">3</text>
<text x="140.88" y="779.70" font-size="10" fill="#c8102e" text-anchor="middle" font-weight="normal" stroke="#c8102e" stroke-width="0.18" textLength="6.0" lengthAdjust="spacingAndGlyphs">6</text>
<text x="140.88" y="796.50" font-size="10" fill="#0f4f8a" text-anchor="middle" font-weight="normal" stroke="#0f4f8a" stroke-width="0.18" textLength="6.0" lengthAdjust="spacingAndGlyphs">3</text>
<text x="163.20" y="779.70" font-size="10" fill="#c8102e" text-anchor="middle" font-weight="normal" stroke="#c8102e" stroke-width="0.18" textLength="6.0" lengthAdjust="spacingAndGlyphs">6</text>
<text x="163.20" y="796.50" font-size="10" fill="#0f4f8a" text-anchor="middle" font-weight="normal" stroke="#0f4f8a" stroke-width="0.18" textLength="6.0" lengthAdjust="spacingAndGlyphs">1</text>
<text x="185.52" y="779.70" font-size="10" fill="#c8102e" text-anchor="middle" font-weight="normal" stroke="#c8102e" stroke-width="0.18" textLength="6.0" lengthAdjust="spacingAndGlyphs">6</text>
<text x="185.52" y="796.50" font-size="10" fill="#0f4f8a" text-anchor="middle" font-weight="normal" stroke="#0f4f8a" stroke-width="0.18" textLength="6.0" lengthAdjust="spacingAndGlyphs">1</text>
<text x="207.84" y="779.70" font-size="10" fill="#c8102e" text-anchor="middle" font-weight="normal" stroke="#c8102e" stroke-width="0.18" textLength="6.0" lengthAdjust="spacingAndGlyphs">6</text>
<text x="207.84" y="796.50" font-size="10" fill="#0f4f8a" text-anchor="middle" font-weight="normal" stroke="#0f4f8a" stroke-width="0.18" textLength="6.0" lengthAdjust="spacingAndGlyphs">1</text>
<text x="230.16" y="779.70" font-size="10" fill="#c8102e" text-anchor="middle" font-weight="normal" stroke="#c8102e" stroke-width="0.18" textLength="6.0" lengthAdjust="spacingAndGlyphs">5</text>
<text x="230.16" y="796.50" font-size="10" fill="#0f4f8a" text-anchor="middle" font-weight="normal" stroke="#0f4f8a" stroke-width="0.18" textLength="6.0" lengthAdjust="spacingAndGlyphs">1</text>
<text x="252.48" y="779.70" font-size="10" fill="#c8102e" text-anchor="middle" font-weight="normal" stroke="#c8102e" stroke-width="0.18" textLength="6.0" lengthAdjust="spacingAndGlyphs">5</text>
<text x="252.48" y="796.50" font-size="10" fill="#0f4f8a" text-anchor="middle" font-weight="normal" stroke="#0f4f8a" stroke-width="0.18" textLength="6.0" lengthAdjust="spacingAndGlyphs">1</text>
<text x="274.80" y="779.70" font-size="10" fill="#c8102e" text-anchor="middle" font-weight="normal" stroke="#c8102e" stroke-width="0.18" textLength="6.0" lengthAdjust="spacingAndGlyphs">4</text>
<text x="274.80" y="796.50" font-size="10" fill="#0f4f8a" text-anchor="middle" font-weight="normal" stroke="#0f4f8a" stroke-width="0.18" textLength="6.0" lengthAdjust="spacingAndGlyphs">1</text>
<text x="297.12" y="779.70" font-size="10" fill="#c8102e" text-anchor="middle" font-weight="normal" stroke="#c8102e" stroke-width="0.18" textLength="6.0" lengthAdjust="spacingAndGlyphs">3</text>
<text x="297.12" y="796.50" font-size="10" fill="#0f4f8a" text-anchor="middle" font-weight="normal" stroke="#0f4f8a" stroke-width="0.18" textLength="6.0" lengthAdjust="spacingAndGlyphs">0</text>
<text x="319.44" y="779.70" font-size="10" fill="#c8102e" text-anchor="middle" font-weight="normal" stroke="#c8102e" stroke-width="0.18" textLength="6.0" lengthAdjust="spacingAndGlyphs">1</text>
<text x="319.44" y="796.50" font-size="10" fill="#0f4f8a" text-anchor="middle" font-weight="normal" stroke="#0f4f8a" stroke-width="0.18" textLength="6.0" lengthAdjust="spacingAndGlyphs">0</text>
<rect x="0.5" y="0.5" width="519" height="807" fill="none" stroke="#000" stroke-width="1"/>
<rect x="1.5" y="1.5" width="517" height="805" fill="none" stroke="#777" stroke-width="1"/>
</svg>
</body></html>
